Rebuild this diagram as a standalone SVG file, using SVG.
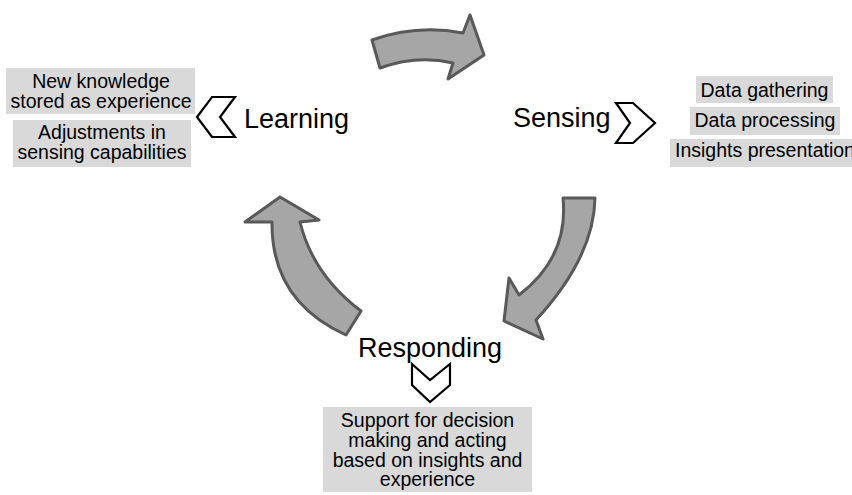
<svg xmlns="http://www.w3.org/2000/svg" width="852" height="495" viewBox="0 0 852 495">
<style>
.arrow{fill:#a6a6a6;stroke:#595959;stroke-width:3;stroke-linejoin:round}
.chev{fill:#ffffff;stroke:#000000;stroke-width:2.2;stroke-linejoin:miter}
.box{fill:#d9d9d9}
.big{font-family:"Liberation Sans",Arial,sans-serif;font-size:27px;fill:#000}
.small{font-family:"Liberation Sans",Arial,sans-serif;font-size:19.5px;fill:#000;text-anchor:middle}
</style>
<rect width="852" height="495" fill="#ffffff"/>
<g id="connectors">
<path class="arrow" d="M372,40 Q417,24 463,33 L470,15 L484,55 L448,79 L453,63 Q417,54.5 380,68 Z"/>
<path class="arrow" d="M563,198 L595,198 Q594,257 536,320 L543,339 L504,321 L509,278 L519,295 Q569,257 563,198 Z"/>
<path class="arrow" d="M346,335 Q271,301 272,222 L245,222 L280,197 L319,220 L300,222 Q313,275 361,311 Z"/>
</g>
<g id="learning">
<path class="chev" d="M235,97 L212,97 L197,117 L212,137 L235,137 L220,117 Z"/>
<text class="big" x="244" y="128">Learning</text>
</g>
<g id="sensing">
<text class="big" x="513" y="127">Sensing</text>
<path class="chev" d="M616,103 L633,103 L655,123 L633,143 L616,143 L630,123 Z"/>
</g>
<g id="responding">
<text class="big" x="430" y="357" text-anchor="middle">Responding</text>
<path class="chev" d="M412,364 L430,380 L450,364 L450,385 L430,402 L412,385 Z"/>
</g>
<g id="learning-box-1">
<rect class="box" x="6" y="68" width="189" height="46"/>
<text class="small" x="101" y="88">New knowledge</text>
<text class="small" x="101" y="108">stored as experience</text>
</g>
<g id="learning-box-2">
<rect class="box" x="13" y="120" width="178" height="47"/>
<text class="small" x="102" y="139">Adjustments in</text>
<text class="small" x="102" y="159">sensing capabilities</text>
</g>
<g id="sensing-box-1">
<rect class="box" x="696" y="76" width="137" height="27"/>
<text class="small" x="764.5" y="97">Data gathering</text>
</g>
<g id="sensing-box-2">
<rect class="box" x="690" y="107" width="150" height="28"/>
<text class="small" x="765" y="127">Data processing</text>
</g>
<g id="sensing-box-3">
<rect class="box" x="670" y="139" width="190" height="28"/>
<text class="small" x="765" y="157">Insights presentation</text>
</g>
<g id="responding-box">
<rect class="box" x="323" y="407" width="209" height="85"/>
<text class="small" x="427.5" y="427">Support for decision</text>
<text class="small" x="427.5" y="447">making and acting</text>
<text class="small" x="427.5" y="467">based on insights and</text>
<text class="small" x="427.5" y="486">experience</text>
</g>
</svg>
